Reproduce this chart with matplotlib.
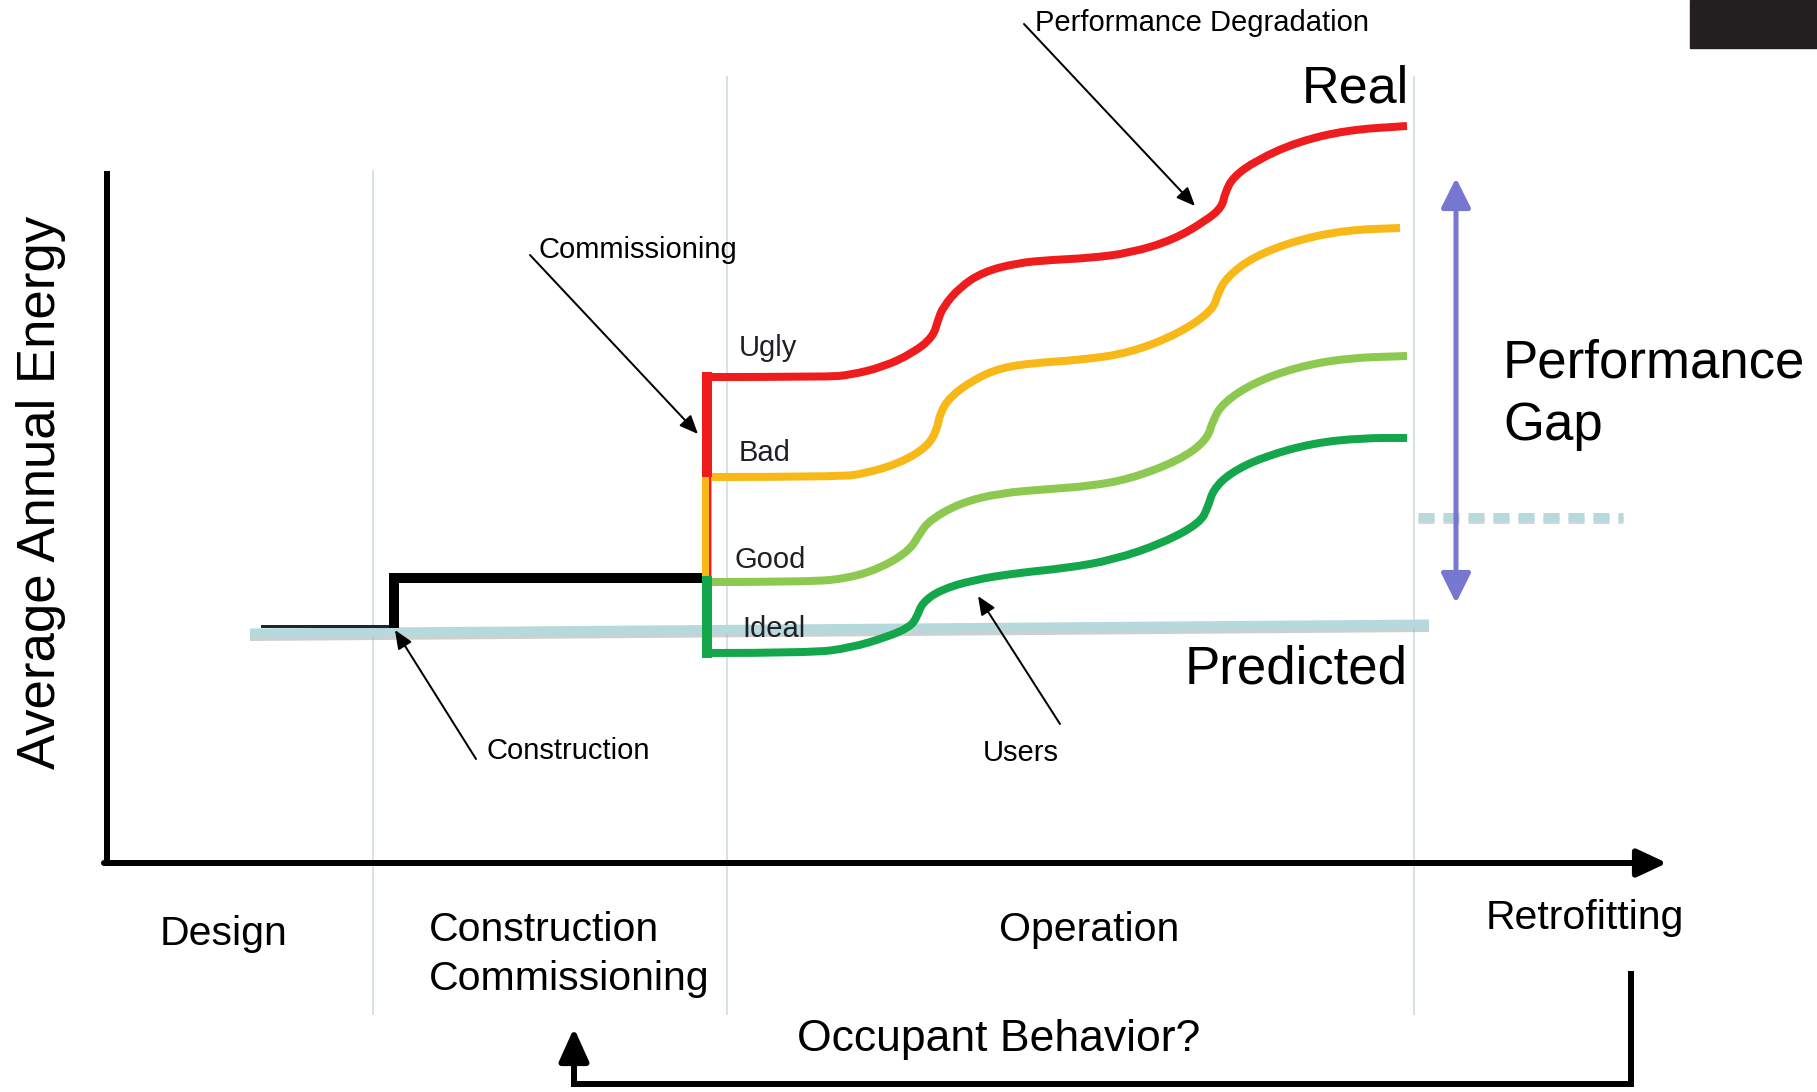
from matplotlib import pyplot as plt
from matplotlib.patches import Rectangle, PathPatch
from matplotlib.path import Path

# everything is placed in picture pixels (x right, y down)
W, H = 1817, 1092

# phases along the time axis
phase_names = ["Design", "Construction\nCommissioning", "Operation", "Retrofitting"]
phase_x = [160, 429, 999, 1486]
phase_y = [934, 930, 930, 918]
phase_lines = [373, 727, 1414]
phase_line_top = [171, 77, 77]

# predicted energy (flat)
predicted_x = [250, 1429]
predicted_y = [633, 624]

# design -> construction step
design_x = [262, 394]
design_y = [626, 626]
construction_x = [394, 394, 707]
construction_y = [628, 578, 578]

# commissioning jump at the start of operation
jump_x = 707
ugly_jump = [377, 477]
bad_jump = [477, 581]
ideal_jump = [581, 653]

# operation curves (energy drifting up with user effects and degradation)
ugly_x = [707, 827, 850, 883, 913, 933, 938, 943, 960, 983, 1017, 1050, 1090, 1130, 1173, 1207, 1222, 1225, 1233, 1257, 1297, 1347, 1407]
ugly_y = [377, 377, 375, 367, 353, 337, 320, 307, 287, 272, 263, 260, 258, 253, 240, 220, 207, 193, 177, 160, 142, 130, 126]

bad_x = [707, 840, 867, 900, 927, 937, 940, 950, 973, 1000, 1033, 1080, 1130, 1180, 1213, 1218, 1227, 1253, 1297, 1347, 1400]
bad_y = [477, 477, 473, 463, 447, 430, 413, 397, 380, 368, 363, 360, 353, 333, 310, 293, 277, 257, 240, 230, 228]

good_x = [707, 810, 850, 883, 910, 920, 930, 960, 1000, 1050, 1090, 1130, 1180, 1207, 1213, 1223, 1253, 1297, 1347, 1407]
good_y = [582, 582, 578, 567, 550, 533, 520, 503, 493, 489, 486, 479, 460, 440, 420, 403, 383, 367, 358, 356]

ideal_x = [707, 810, 850, 887, 910, 917, 922, 940, 973, 1017, 1067, 1113, 1163, 1200, 1208, 1213, 1230, 1263, 1313, 1363, 1407]
ideal_y = [653, 653, 648, 637, 627, 617, 603, 590, 580, 573, 568, 560, 543, 523, 507, 490, 473, 457, 443, 438, 438]

curve_labels = ["Ugly", "Bad", "Good", "Ideal"]
curve_label_x = [739, 739, 734, 742]
curve_label_y = [348, 453, 560, 629]

RED = '#ee1c1c'
ORANGE = '#f8b818'
LIGHTGREEN = '#8dc850'
DARKGREEN = '#13a64a'
PRED = '#b6d9dd'
GRID = '#d6e1e8'


def smooth_path(xs, ys):
    # quadratic bezier through the midpoints, read points act as control points
    verts = [(xs[0], ys[0])]
    codes = [Path.MOVETO]
    for i in range(1, len(xs) - 1):
        verts.append((xs[i], ys[i]))
        verts.append(((xs[i] + xs[i + 1]) / 2, (ys[i] + ys[i + 1]) / 2))
        codes += [Path.CURVE3, Path.CURVE3]
    verts.append((xs[-1], ys[-1]))
    codes.append(Path.LINETO)
    return Path(verts, codes)


plt.rcParams['font.family'] = ['Liberation Sans', 'DejaVu Sans']
plt.rcParams['lines.scale_dashes'] = False
fig = plt.figure(figsize=(W / 100, H / 100), dpi=100)
ax = fig.add_axes([0, 0, 1, 1])
ax.set_xlim(0, W)
ax.set_ylim(H, 0)
ax.axis('off')

px = 0.72  # one pixel in points

for x, top in zip(phase_lines, phase_line_top):
    ax.plot([x, x], [top, 1014], color=GRID, lw=2 * px, zorder=1)

# axes arrows
ax.plot([107, 107], [171, 866], color='black', lw=6 * px, solid_capstyle='butt', zorder=3)
ax.annotate('', xy=(1667, 863), xytext=(104, 863),
            arrowprops=dict(arrowstyle='-|>,head_length=0.9,head_width=0.42', mutation_scale=20,
                            lw=6 * px, color='black', shrinkA=0, shrinkB=0), zorder=3)

# predicted line with its soft shadow
ax.plot(predicted_x, [v + 4 for v in predicted_y], color='#a9b1b3', lw=8 * px, alpha=0.6,
        solid_capstyle='butt', zorder=2)
ax.plot(predicted_x, predicted_y, color=PRED, lw=9 * px, solid_capstyle='butt', zorder=2)

ax.plot(design_x, design_y, color='#1a2a2c', lw=3 * px, zorder=3)
ax.plot(construction_x, construction_y, color='black', lw=10 * px, solid_joinstyle='miter',
        solid_capstyle='butt', zorder=4)

# operation curves
for xs, ys, c in [(ugly_x, ugly_y, RED), (bad_x, bad_y, ORANGE),
                  (good_x, good_y, LIGHTGREEN), (ideal_x, ideal_y, DARKGREEN)]:
    ax.add_patch(PathPatch(smooth_path(xs, ys), fill=False, edgecolor=c, lw=8 * px,
                           capstyle='butt', joinstyle='round', zorder=5))

ax.plot([jump_x, jump_x], ugly_jump, color=RED, lw=10 * px, solid_capstyle='projecting', zorder=6)
ax.plot([jump_x, jump_x], bad_jump, color=ORANGE, lw=10 * px, solid_capstyle='butt', zorder=6)
ax.plot([jump_x + 3, jump_x + 3], bad_jump, color=RED, lw=2 * px, solid_capstyle='butt', zorder=6)
ax.plot([jump_x, jump_x], ideal_jump, color=DARKGREEN, lw=10 * px, solid_capstyle='projecting', zorder=6)

for t, x, y in zip(curve_labels, curve_label_x, curve_label_y):
    ax.text(x, y, t, fontsize=21, ha='left', va='center', color='#1f1f26', zorder=7)

# annotation arrows
thin = dict(arrowstyle='-|>,head_length=0.75,head_width=0.32', mutation_scale=15,
            lw=2 * px, color='black', shrinkA=0, shrinkB=0)
ax.annotate('', xy=(1195, 206), xytext=(1024, 24), arrowprops=thin, zorder=8)
ax.annotate('', xy=(698, 434), xytext=(530, 255), arrowprops=thin, zorder=8)
ax.annotate('', xy=(395, 630), xytext=(476, 759), arrowprops=thin, zorder=8)
ax.annotate('', xy=(978, 596), xytext=(1060, 724), arrowprops=thin, zorder=8)

ax.text(1035, 23, "Performance Degradation", fontsize=21, ha='left', va='center')
ax.text(539, 250, "Commissioning", fontsize=21, ha='left', va='center')
ax.text(487, 751, "Construction", fontsize=21, ha='left', va='center')
ax.text(983, 753, "Users", fontsize=21, ha='left', va='center')

ax.text(1409, 89, "Real", fontsize=37.5, ha='right', va='center')
ax.text(1408, 670, "Predicted", fontsize=38, ha='right', va='center')

# performance gap
ax.annotate('', xy=(1456, 178), xytext=(1456, 603),
            arrowprops=dict(arrowstyle='<|-|>,head_length=0.9,head_width=0.45', mutation_scale=20,
                            lw=5 * px, color='#7777d2', shrinkA=0, shrinkB=0), zorder=6)
gap_dash = (16 * px, 9 * px)  # absolute lengths, not scaled by width
ax.plot([1418, 1623], [520, 520], color='#a9b1b3', lw=7 * px, alpha=0.5,
        dashes=gap_dash, dash_capstyle='butt', zorder=5)
ax.plot([1418, 1623], [517, 517], color=PRED, lw=9 * px,
        dashes=gap_dash, dash_capstyle='butt', zorder=5)
ax.text(1503, 364, "Performance", fontsize=38, ha='left', va='center')
ax.text(1503, 426, "Gap", fontsize=38, ha='left', va='center')

ax.text(41, 492, "Average Annual Energy", fontsize=38, rotation=90, ha='center', va='center')

for t, x, y in zip(phase_names, phase_x, phase_y):
    if "\n" in t:
        first, second = t.split("\n")
        ax.text(x, y, first, fontsize=29.5, ha='left', va='center')
        ax.text(x, y + 49, second, fontsize=29.5, ha='left', va='center')
    else:
        ax.text(x, y, t, fontsize=29.5, ha='left', va='center')

# feedback loop back to construction
ax.plot([1631, 1631, 574, 574], [971, 1084, 1084, 1050], color='black', lw=6 * px,
        solid_joinstyle='miter', solid_capstyle='butt')
ax.annotate('', xy=(574, 1028), xytext=(574, 1060),
            arrowprops=dict(arrowstyle='-|>,head_length=1.0,head_width=0.45', mutation_scale=20,
                            lw=6 * px, color='black', shrinkA=0, shrinkB=0))
ax.text(797, 1039, "Occupant Behavior?", fontsize=32, ha='left', va='center')

ax.add_patch(Rectangle((1690, 0), 127, 48, color='#231f20', zorder=9))

plt.savefig('out.png', dpi=100)
